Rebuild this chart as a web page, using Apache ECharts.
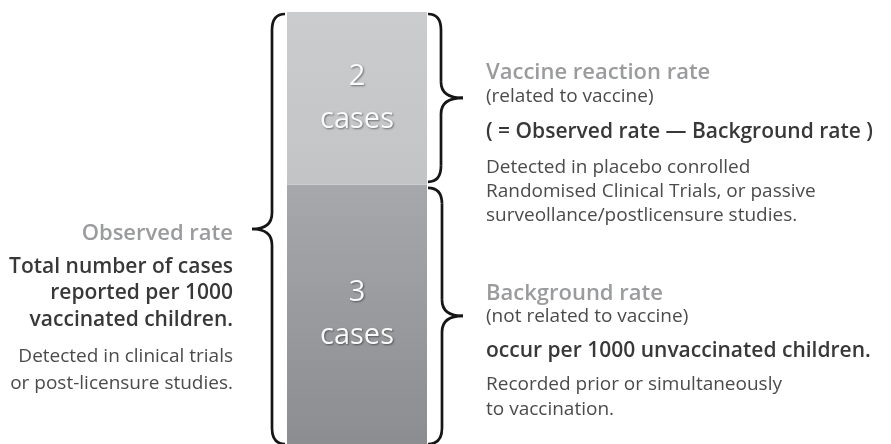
<!DOCTYPE html>
<html>
<head>
<meta charset="utf-8">
<script src="https://cdn.jsdelivr.net/npm/echarts@6/dist/echarts.min.js"></script>
<style>
  html, body { margin: 0; padding: 0; background: #fff; }
  #main { width: 891px; height: 444px; }
</style>
</head>
<body>
<div id="main"></div>
<script>
// data
var categories = ['Observed rate'];
var backgroundCases = [3];   // not related to vaccine
var reactionCases = [2];     // related to vaccine
var caseUnit = 'cases';

var font = '"Open Sans", "Noto Sans", sans-serif';
var headGrey = '#9a9b9d';
var boldDark = '#383838';
var plainDark = '#4b4b4b';

var barLeft = 287, barWidth = 140;

var chart = echarts.init(document.getElementById('main'));

var caseLabel = {
    show: true,
    position: 'inside',
    formatter: function (p) { return p.value + '\n' + caseUnit; },
    color: '#fafafa',
    fontFamily: font,
    fontWeight: 'normal',
    fontSize: 29,
    lineHeight: 43,
    textShadowColor: 'rgba(0,0,0,0.45)',
    textShadowBlur: 2,
    textShadowOffsetX: 1,
    textShadowOffsetY: 1
};

chart.setOption({
    animation: false,
    backgroundColor: '#fff',
    grid: { left: barLeft, width: barWidth, top: 12, bottom: -8 },
    xAxis: { type: 'category', data: categories, show: false },
    yAxis: {
        type: 'value', show: false, min: 0,
        max: backgroundCases[0] + reactionCases[0]
    },
    series: [
        {
            name: 'Background rate', type: 'bar', stack: 'total',
            barWidth: '100%', data: backgroundCases,
            itemStyle: {
                color: new echarts.graphic.LinearGradient(0, 0, 0, 1, [
                    { offset: 0, color: '#a7a8ab' },
                    { offset: 1, color: '#8c8d90' }
                ])
            },
            label: caseLabel
        },
        {
            name: 'Vaccine reaction rate', type: 'bar', stack: 'total',
            barWidth: '100%', data: reactionCases,
            itemStyle: {
                color: new echarts.graphic.LinearGradient(0, 0, 0, 1, [
                    { offset: 0, color: '#cbcccd' },
                    { offset: 1, color: '#c3c4c6' }
                ])
            },
            label: caseLabel
        }
    ]
});

// braces follow the bar through the axis scale
function px(v) { return chart.convertToPixel({ gridIndex: 0 }, [0, v]); }
var yBase = px(0)[1];
var yMid = px(backgroundCases[0])[1];
var yTop = px(backgroundCases[0] + reactionCases[0])[1];

var braceStyle = { fill: null, stroke: '#161616', lineWidth: 2.7 };
function curve(x1, y1, cx, cy, x2, y2) {
    return { type: 'bezierCurve', silent: true,
        shape: { x1: x1, y1: y1, cpx1: cx, cpy1: cy, x2: x2, y2: y2 },
        style: braceStyle };
}
function seg(x1, y1, x2, y2) {
    return { type: 'line', silent: true,
        shape: { x1: x1, y1: y1, x2: x2, y2: y2 }, style: braceStyle };
}
function brace(xEnd, stem, tip, y0, y1) {
    var ym = (y0 + y1) / 2, r = 16;
    return { type: 'group', children: [
        curve(xEnd, y0, stem, y0, stem, y0 + r),
        seg(stem, y0 + r, stem, ym - r),
        curve(stem, ym - r, stem, ym, tip, ym),
        curve(tip, ym, stem, ym, stem, ym + r),
        seg(stem, ym + r, stem, y1 - r),
        curve(stem, y1 - r, stem, y1, xEnd, y1)
    ] };
}

function txt(x, y, s, color, weight, size, align) {
    return {
        type: 'text', x: x, y: y, silent: true,
        style: {
            text: s, fill: color, fontFamily: font, fontSize: size,
            fontWeight: weight, align: align, verticalAlign: 'middle'
        }
    };
}
function head(x, y, s, align) { return txt(x, y, s, headGrey, 600, 22, align); }
function strong(x, y, s, align) { return txt(x, y, s, boldDark, 600, 21, align); }
function plain(x, y, s, align) { return txt(x, y, s, plainDark, 'normal', 19, align); }

var rx = 486, lx = 233;
var right = barLeft + barWidth;
chart.setOption({
    graphic: [
        brace(barLeft - 2, barLeft - 15, barLeft - 35, yTop + 2, yBase),
        brace(right + 1, right + 14, right + 36, yTop + 2, yMid - 3),
        brace(right + 1, right + 15, right + 36, yMid + 3, yBase),

        head(lx, 234, 'Observed rate', 'right'),
        strong(lx, 267, 'Total number of cases', 'right'),
        strong(lx, 293, 'reported per 1000', 'right'),
        strong(lx, 320, 'vaccinated children.', 'right'),
        plain(lx, 357, 'Detected in clinical trials', 'right'),
        plain(lx, 384, 'or post-licensure studies.', 'right'),

        head(rx, 73, 'Vaccine reaction rate', 'left'),
        plain(rx, 97, '(related to vaccine)', 'left'),
        strong(rx, 132, '( = Observed rate \u2014 Background rate )', 'left'),
        plain(rx, 168, 'Detected in placebo conrolled', 'left'),
        plain(rx, 192, 'Randomised Clinical Trials, or passive', 'left'),
        plain(rx, 216, 'surveollance/postlicensure studies.', 'left'),

        head(rx, 294, 'Background rate', 'left'),
        plain(rx, 317, '(not related to vaccine)', 'left'),
        strong(rx, 351, 'occur per 1000 unvaccinated children.', 'left'),
        plain(rx, 385, 'Recorded prior or simultaneously', 'left'),
        plain(rx, 410, 'to vaccination.', 'left')
    ]
});
</script>
</body>
</html>
